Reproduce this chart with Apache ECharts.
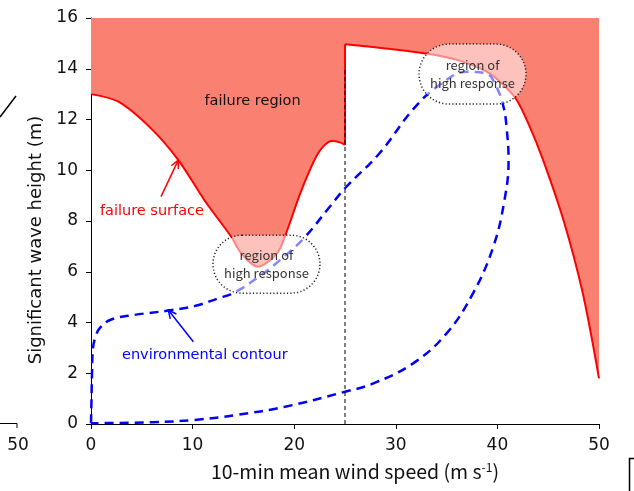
<!DOCTYPE html>
<html><head><meta charset="utf-8">
<script src="https://cdn.jsdelivr.net/npm/echarts@6/dist/echarts.min.js"></script>
<style>html,body{margin:0;padding:0;background:#fff}#c{width:634px;height:491px}</style>
</head><body><div id="c"></div><script>
// ---- data ----
const xTicks = [0, 10, 20, 30, 40, 50];
const yTicks = [0, 2, 4, 6, 8, 10, 12, 14, 16];
// failure surface below cut-out speed (25 m/s)
const failLowX = [0, 2.7, 5.9, 8.6, 11.2, 13.8, 14.8, 16.4, 18.3, 19.1, 20.7, 22.4, 23.7, 24.5, 25];
const failLowY = [13.0, 12.7, 11.65, 10.4, 8.8, 7.38, 6.72, 6.2, 6.72, 7.4, 9.2, 10.7, 11.15, 11.1, 11.0];
// failure surface above cut-out speed
const failHighX = [25, 29, 33, 36, 38.9, 40.5, 41.9, 43.2, 44.5, 46.5, 48.4, 50];
const failHighY = [14.97, 14.8, 14.6, 14.35, 13.9, 13.4, 12.77, 11.7, 10.4, 8.04, 5.16, 1.8];
// jump of failure surface at cut-out
const failJumpX = [25, 25];
const failJumpY = [11.0, 14.97];
const contourX = [0, 0.05, 0.1, 0.2, 0.5, 0.9, 2, 4.3, 7.6, 10.2, 12.5, 14.2, 16.5, 18.6, 20.9, 23.5, 25, 28.4, 31.7, 34.3, 37.0, 38.9, 39.9, 40.6, 40.9, 41.1, 40.7, 39.6, 37.6, 35.0, 31.7, 27.8, 25, 19.1, 14.2, 10.2, 6, 0];
const contourY = [0.03, 1, 2, 3.0, 3.5, 3.8, 4.12, 4.3, 4.47, 4.65, 4.95, 5.2, 5.8, 6.46, 7.3, 8.56, 9.29, 10.67, 12.4, 13.36, 13.88, 13.82, 13.29, 12.5, 11.7, 10.4, 8.83, 6.99, 5.15, 3.57, 2.39, 1.6, 1.27, 0.68, 0.35, 0.16, 0.07, 0.03];
const cutInX = [25, 25];
const cutInY = [0, 14];
// annotations (data coordinates)
const highResp1 = [17.27, 6.3];
const highResp2 = [37.55, 13.79];
const failRegionLabel = [15.9, 12.73];
const failSurfLabel = [6.0, 8.4];
const failSurfArrow = [[6.89, 8.96], [8.59, 10.4]];
const envLabel = [11.2, 2.72];
const envArrow = [[10.07, 3.24], [7.61, 4.49]];

const zip = (a, b) => a.map((v, i) => [v, b[i]]);
const chart = echarts.init(document.getElementById('c'), null, {renderer: 'canvas'});
const axisFont = 'DejaVu Sans';
const failStyle = {color: '#ff0000', width: 2};
const fillStyle = {color: '#fa8072', opacity: 1, origin: 'end'};
chart.setOption({
  animation: false,
  backgroundColor: '#fff',
  grid: {left: 91, right: 35, top: 18, bottom: 67, containLabel: false},
  xAxis: {
    type: 'value', min: xTicks[0], max: xTicks[xTicks.length - 1], interval: 10,
    axisLine: {lineStyle: {color: '#000', width: 1}},
    axisTick: {show: true, length: 5, lineStyle: {color: '#000'}},
    splitLine: {show: false},
    axisLabel: {color: '#111', fontSize: 17, fontFamily: axisFont, margin: 13},
    name: '10-min mean wind speed (m s{sup|-1})',
    nameLocation: 'middle', nameGap: 37,
    nameTextStyle: {color: '#111', fontSize: 19.5, fontFamily: 'Noto Sans CJK JP', padding: [0, 0, 0, 20],
      rich: {sup: {fontSize: 12, fontFamily: 'Noto Sans CJK JP', color: '#111', padding: [0, 0, 9, 0]}}}
  },
  yAxis: {
    type: 'value', min: yTicks[0], max: yTicks[yTicks.length - 1], interval: 2,
    axisLine: {show: true, lineStyle: {color: '#000', width: 1}},
    axisTick: {show: true, length: 5, lineStyle: {color: '#000'}},
    splitLine: {show: false},
    axisLabel: {color: '#111', fontSize: 17, fontFamily: axisFont, margin: 13},
    name: 'Significant wave height (m)',
    nameLocation: 'middle', nameGap: 40,
    nameTextStyle: {color: '#111', fontSize: 18, fontFamily: axisFont, padding: [0, 38, 0, 0]}
  },
  series: [
    {type: 'line', data: zip(failLowX, failLowY), showSymbol: false, symbol: 'none',
      smooth: 0.3, lineStyle: failStyle, areaStyle: fillStyle, z: 2},
    {type: 'line', data: zip(failHighX, failHighY), showSymbol: false, symbol: 'none',
      smooth: 0.3, lineStyle: failStyle, areaStyle: fillStyle, z: 2},
    {type: 'line', data: zip(failJumpX, failJumpY), showSymbol: false, symbol: 'none',
      lineStyle: failStyle, z: 2},
    {type: 'line', data: zip(contourX, contourY), showSymbol: false, symbol: 'none',
      smooth: 0.4, lineStyle: {color: '#0000ff', width: 2.5, type: [9, 6]}, z: 3},
    {type: 'line', data: zip(cutInX, cutInY), showSymbol: false, symbol: 'none',
      lineStyle: {color: '#000', width: 1, type: [4, 3]}, z: 4}
  ]
});

function px(p) { return chart.convertToPixel({gridIndex: 0}, p); }
function arrow(tail, head, color) {
  const t = px(tail), h = px(head);
  const ang = Math.atan2(h[1] - t[1], h[0] - t[0]);
  const L = 9, a = 0.45;
  const p1 = [h[0] - L * Math.cos(ang - a), h[1] - L * Math.sin(ang - a)];
  const p2 = [h[0] - L * Math.cos(ang + a), h[1] - L * Math.sin(ang + a)];
  return [
    {type: 'line', z: 50, shape: {x1: t[0], y1: t[1], x2: h[0], y2: h[1]}, style: {stroke: color, lineWidth: 1.5}},
    {type: 'polyline', z: 50, shape: {points: [p1, h, p2]}, style: {stroke: color, lineWidth: 1.5, fill: null}}
  ];
}
function bubble(c, w, hgt) {
  const p = px(c);
  return [
    {type: 'rect', z: 60, shape: {x: p[0] - w / 2, y: p[1] - hgt / 2, width: w, height: hgt, r: hgt / 2},
      style: {fill: 'rgba(255,255,255,0.52)', stroke: '#222', lineWidth: 1.5, lineDash: [1.2, 2.2]}},
    {type: 'text', z: 61, x: p[0], y: p[1],
      style: {text: 'region of\nhigh response', fill: '#333', font: '13px "Noto Sans CJK JP"', align: 'center', verticalAlign: 'middle', lineHeight: 18}}
  ];
}
function label(c, txt, color) {
  const p = px(c);
  return {type: 'text', z: 70, x: p[0], y: p[1],
    style: {text: txt, fill: color, font: '14.5px "DejaVu Sans"', align: 'center', verticalAlign: 'middle'}};
}
const g = [];
g.push(...bubble(highResp1, 107, 58));
g.push(...bubble(highResp2, 107, 60));
g.push(label(failRegionLabel, 'failure region', '#111'));
g.push(label(failSurfLabel, 'failure surface', '#ff0000'));
g.push(label(envLabel, 'environmental contour', '#0000ff'));
g.push(...arrow(failSurfArrow[0], failSurfArrow[1], '#ff0000'));
g.push(...arrow(envArrow[0], envArrow[1], '#0000ff'));
// fragments of neighbouring panels cropped into the picture
g.push({type: 'polyline', z: 40, shape: {points: [[0, 423.5], [17, 423.5], [17, 428]]}, style: {stroke: '#000', lineWidth: 1, fill: null}});
g.push({type: 'text', z: 40, x: 18, y: 446, style: {text: '50', fill: '#111', font: '17px "DejaVu Sans"', align: 'center', verticalAlign: 'middle'}});
g.push({type: 'line', z: 40, shape: {x1: 0, y1: 117, x2: 16, y2: 96}, style: {stroke: '#000', lineWidth: 1.5}});
g.push({type: 'polyline', z: 40, shape: {points: [[634, 458.5], [629.5, 458.5], [629.5, 491]]}, style: {stroke: '#000', lineWidth: 1.5, fill: null}});
chart.setOption({graphic: {elements: g}});
</script></body></html>
